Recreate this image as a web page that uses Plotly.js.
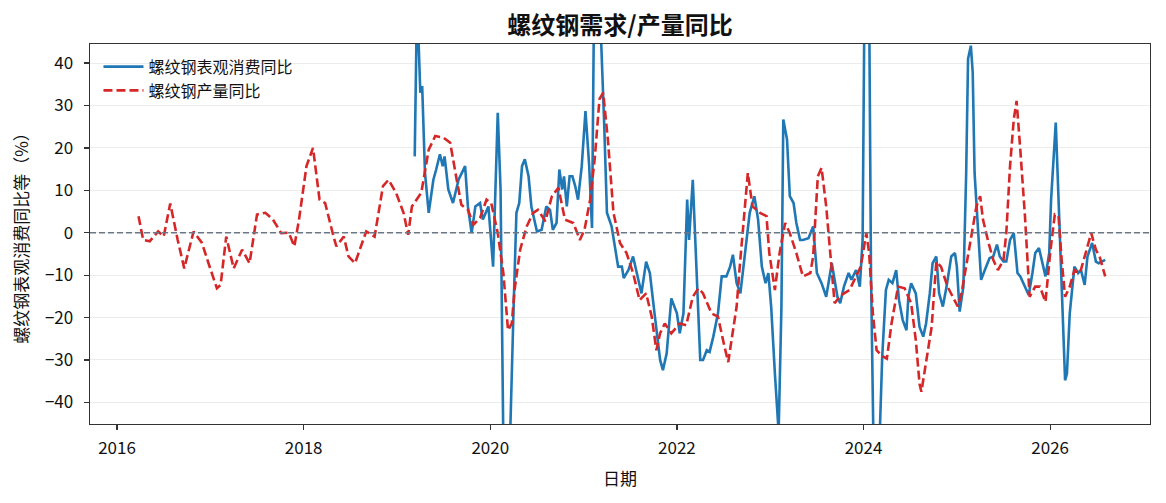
<!DOCTYPE html>
<html>
<head>
<meta charset="utf-8">
<script src="https://cdn.plot.ly/plotly-3.0.1.min.js"></script>
<style>
  body { margin: 0; background: #fff; }
  #chart { width: 1166px; height: 503px; }
</style>
</head>
<body>
<div id="chart"></div>
<script>
// 螺纹钢产量同比 (weekly, x = decimal year)
var prodX = [2016.23, 2016.28, 2016.35, 2016.44, 2016.50, 2016.57, 2016.65, 2016.72, 2016.82, 2016.91,
  2016.98, 2017.07, 2017.11, 2017.17, 2017.25, 2017.34, 2017.42, 2017.50, 2017.59, 2017.67,
  2017.76, 2017.84, 2017.90, 2017.95, 2018.03, 2018.10, 2018.17, 2018.23, 2018.32, 2018.35,
  2018.43, 2018.48, 2018.55, 2018.60, 2018.67, 2018.76, 2018.85, 2018.91, 2018.99, 2019.07,
  2019.12, 2019.16, 2019.21, 2019.26, 2019.34, 2019.41, 2019.50, 2019.57, 2019.64, 2019.69,
  2019.76, 2019.82, 2019.89, 2019.96, 2020.01, 2020.08, 2020.14, 2020.19, 2020.23, 2020.26,
  2020.32, 2020.39, 2020.46, 2020.51, 2020.59, 2020.66, 2020.73, 2020.80, 2020.89, 2020.96,
  2021.01, 2021.07, 2021.12, 2021.17, 2021.21, 2021.26, 2021.32, 2021.39, 2021.46, 2021.53,
  2021.60, 2021.67, 2021.73, 2021.78, 2021.82, 2021.87, 2021.94, 2022.03, 2022.10, 2022.17,
  2022.23, 2022.28, 2022.37, 2022.44, 2022.51, 2022.55, 2022.58, 2022.64, 2022.67, 2022.71,
  2022.76, 2022.81, 2022.89, 2022.96, 2022.99, 2023.05, 2023.10, 2023.16, 2023.21, 2023.28,
  2023.35, 2023.43, 2023.46, 2023.51, 2023.55, 2023.60, 2023.66, 2023.69, 2023.76, 2023.85,
  2023.92, 2023.97, 2024.03, 2024.06, 2024.10, 2024.14, 2024.19, 2024.25, 2024.30, 2024.37,
  2024.44, 2024.51, 2024.56, 2024.60, 2024.62, 2024.67, 2024.73, 2024.78, 2024.83, 2024.90,
  2024.96, 2025.01, 2025.05, 2025.10, 2025.16, 2025.21, 2025.25, 2025.28, 2025.34, 2025.39,
  2025.44, 2025.50, 2025.53, 2025.57, 2025.61, 2025.64, 2025.68, 2025.73, 2025.78, 2025.84,
  2025.89, 2025.95, 2026.00, 2026.05, 2026.09, 2026.12, 2026.16, 2026.21, 2026.26, 2026.32,
  2026.37, 2026.44, 2026.49, 2026.53, 2026.59];
var prodY = [3.9, -1.7, -2, 0.3, -0.9, 6.9, -1.7, -8.4, 0.3, -2.4,
  -7.2, -13.1, -12.3, -0.9, -8.4, -4, -7.2, 4.3, 4.7, 3.1,
  -0.1, 0, -3.2, 3.1, 15.7, 20, 7.8, 7, -0.9, -3.2,
  -0.9, -5.6, -7.2, -4, 0.3, -0.9, 11, 12.5, 9.4, 4.7,
  -0.5, 6.2, 7.8, 9.4, 19.6, 22.8, 22.4, 21.2, 12.5, 6.6,
  5.4, 1.9, 3.5, 7.8, 7, -0.1, -9.5, -23, -21.4, -13.5,
  -4, 1.5, 4.7, 5.4, 2.7, 8.6, 10.6, 3.1, 2.3, -1.7,
  0.7, 7.8, 17.7, 31.5, 33, 22, 4.7, -2.4, -4.8, -9.5,
  -15.9, -14.3, -19.8, -27.7, -23.7, -21.4, -23.7, -21.4, -21.8, -15.1,
  -13.1, -14.3, -19, -19.8, -26.9, -30.5, -26.1, -17.4, -8.8, 2.3,
  14.1, 6.2, 4.7, 3.9, -4.8, -13.5, -4.8, 2.3, -0.1, -4.8,
  -10.3, -9.5, -5.6, 13.3, 15.3, 6.2, -9.5, -16.6, -14.7, -13.5,
  -10.3, -8, -0.1, -4.8, -19, -27.7, -28.9, -29.7, -21.4, -12.7,
  -13.1, -16.6, -25.3, -35.6, -37.5, -30, -22.2, -6.8, -8, -12.7,
  -15.1, -17.4, -14.3, -8, -0.1, 6.2, 8.6, 3.1, -2.4, -6.4,
  -8.8, -6.4, -0.1, 15.7, 26.7, 31.1, 19.6, 3.9, -15.1, -12.7,
  -12.7, -16.3, -4.8, 4.3, 3.9, -5.6, -15.1, -12.7, -8.8, -9.5,
  -5.6, -0.1, -4, -5.6, -10.3];

// 螺纹钢表观消费同比
var consX = [2019.19, 2019.21, 2019.23, 2019.25, 2019.27, 2019.30, 2019.34, 2019.39, 2019.42, 2019.46,
  2019.49, 2019.51, 2019.55, 2019.60, 2019.66, 2019.73, 2019.76, 2019.80, 2019.84, 2019.89,
  2019.92, 2019.98, 2020.03, 2020.08, 2020.11, 2020.14, 2020.17, 2020.21, 2020.25, 2020.28,
  2020.31, 2020.34, 2020.37, 2020.41, 2020.44, 2020.50, 2020.55, 2020.60, 2020.64, 2020.67,
  2020.71, 2020.74, 2020.77, 2020.79, 2020.82, 2020.85, 2020.88, 2020.91, 2020.94, 2020.98,
  2021.02, 2021.06, 2021.09, 2021.11, 2021.14, 2021.18, 2021.22, 2021.25, 2021.30, 2021.34,
  2021.37, 2021.41, 2021.43, 2021.48, 2021.53, 2021.57, 2021.62, 2021.67, 2021.71, 2021.76,
  2021.82, 2021.85, 2021.89, 2021.94, 2022.00, 2022.03, 2022.07, 2022.11, 2022.13, 2022.17,
  2022.21, 2022.25, 2022.28, 2022.32, 2022.35, 2022.39, 2022.44, 2022.48, 2022.53, 2022.57,
  2022.60, 2022.64, 2022.68, 2022.73, 2022.78, 2022.83, 2022.87, 2022.91, 2022.95, 2022.98,
  2023.01, 2023.05, 2023.09, 2023.12, 2023.14, 2023.18, 2023.21, 2023.25, 2023.28, 2023.32,
  2023.35, 2023.41, 2023.46, 2023.50, 2023.55, 2023.60, 2023.66, 2023.72, 2023.75, 2023.79,
  2023.84, 2023.87, 2023.92, 2023.96, 2023.99, 2024.01, 2024.06, 2024.08, 2024.11, 2024.17,
  2024.20, 2024.24, 2024.27, 2024.31, 2024.35, 2024.38, 2024.42, 2024.46, 2024.48, 2024.51,
  2024.56, 2024.60, 2024.64, 2024.67, 2024.71, 2024.74, 2024.78, 2024.81, 2024.85, 2024.89,
  2024.94, 2024.98, 2025.00, 2025.03, 2025.07, 2025.10, 2025.12, 2025.15, 2025.17, 2025.19,
  2025.23, 2025.26, 2025.30, 2025.35, 2025.39, 2025.43, 2025.46, 2025.50, 2025.53, 2025.57,
  2025.61, 2025.65, 2025.68, 2025.71, 2025.77, 2025.81, 2025.84, 2025.88, 2025.91, 2025.95,
  2025.99, 2026.01, 2026.06, 2026.09, 2026.12, 2026.16, 2026.18, 2026.21, 2026.26, 2026.30,
  2026.33, 2026.37, 2026.40, 2026.45, 2026.49, 2026.52, 2026.59];
var consY = [18, 48, 46, 33, 34.6, 14.1, 4.7, 12.5, 14.9, 18.5,
  15.7, 18, 10.2, 7, 12.5, 15.7, 6.2, -0.1, 6.2, 7,
  3.1, 6.2, -8, 28.3, 10.2, -50, -60, -50, -17.4, 4.7,
  7, 15.7, 17.3, 13.3, 6.2, 0.3, 0.7, 6.2, 5.4, 0.7,
  2.3, 14.9, 10.2, 13.3, 6.2, 13.3, 13.3, 11, 7.8, 15.7,
  28.7, 15.7, 1.1, 50, 60, 50, 26, 4.7, 1.5, -4,
  -8, -8, -10.7, -8.8, -5.6, -9.5, -14.3, -6.8, -9.5, -19,
  -30, -32.4, -28.5, -15.5, -19, -23.7, -19, 7.8, -1.7, 12.5,
  -9.5, -30, -30, -27.7, -28.1, -24.5, -19, -10.3, -10.3, -8,
  -5.2, -11.9, -14.3, -4.8, 4.7, 8.6, 3.1, -8, -11.9, -9.5,
  -17.4, -33.2, -47, -17.4, 26.7, 22, 8.6, 7, 2.3, -1.7,
  -1.7, -1.3, 1.5, -9.5, -11.9, -15.1, -7.2, -15.1, -16.6, -12.7,
  -9.5, -11.1, -8.8, -12.7, -1.7, 55, 55, -9.5, -55, -50,
  -29.3, -13.5, -11.1, -11.9, -8.8, -15.9, -20.6, -23, -15.1, -11.9,
  -14.3, -22.2, -24.5, -21.4, -14.3, -7.2, -5.6, -14.3, -17.4, -12.7,
  -5.6, -4.8, -8, -18.6, -12.7, 14.1, 41, 44.1, 37.8, 14.1,
  -1.7, -11.1, -8.8, -6, -5.6, -2.8, -5.6, -6.8, -6.8, -1.7,
  -0.1, -9.5, -10.3, -11.9, -14.7, -9.5, -4.8, -3.6, -6.4, -10.3,
  -4.8, 7.8, 26, 7.8, -11.1, -34.8, -33.2, -19, -8, -9.5,
  -8.8, -12.3, -5.6, -2.4, -6.8, -7.2, -6.4];

var yearTicks = [2016, 2018, 2020, 2022, 2024, 2026];
var yTicks = [-40, -30, -20, -10, 0, 10, 20, 30, 40];

var cjk = '"Noto Sans CJK SC", "Noto Sans", sans-serif';

var traces = [
  {
    x: consX, y: consY, name: '螺纹钢表观消费同比',
    type: 'scatter', mode: 'lines',
    line: { color: '#1f77b4', width: 2.6 }
  },
  {
    x: prodX, y: prodY, name: '螺纹钢产量同比',
    type: 'scatter', mode: 'lines',
    line: { color: '#d62728', width: 2.6, dash: '9px,4px' }
  }
];

var layout = {
  width: 1166, height: 503,
  margin: { l: 90, r: 16, t: 44, b: 79 },
  paper_bgcolor: '#fff', plot_bgcolor: '#fff',
  font: { family: cjk, color: '#111', size: 17 },
  title: {
    text: '<b>螺纹钢需求/产量同比</b>',
    font: { size: 24, family: cjk, color: '#111' },
    x: 0.5, xref: 'paper', y: 0.95, yref: 'container', yanchor: 'middle'
  },
  showlegend: true,
  legend: {
    x: 0.008, y: 0.985, xanchor: 'left', yanchor: 'top',
    bgcolor: 'rgba(0,0,0,0)', borderwidth: 0,
    itemwidth: 40, tracegroupgap: 0,
    font: { size: 16, family: cjk, color: '#111' }
  },
  xaxis: {
    range: [2015.71, 2027.07],
    tickvals: yearTicks, ticktext: yearTicks.map(String),
    ticks: 'outside', ticklen: 5, tickwidth: 1.2, tickcolor: '#333',
    ticklabelstandoff: 3,
    showgrid: false, zeroline: false,
    showline: true, mirror: true, linecolor: '#333', linewidth: 1.4,
    tickfont: { size: 17 },
    title: { text: '日期', font: { size: 17 }, standoff: 15 }
  },
  yaxis: {
    range: [-45.1, 44.5],
    tickvals: yTicks,
    ticks: 'outside', ticklen: 5, tickwidth: 1.2, tickcolor: '#333',
    ticklabelstandoff: 7,
    showgrid: true, gridcolor: '#ececec', gridwidth: 1,
    zeroline: false,
    showline: true, mirror: true, linecolor: '#333', linewidth: 1.4,
    tickfont: { size: 17 },
    title: { text: '螺纹钢表观消费同比等（%）', font: { size: 17 }, standoff: 12 }
  },
  shapes: [{
    type: 'line', xref: 'paper', x0: 0, x1: 1, yref: 'y', y0: 0, y1: 0,
    line: { color: '#6b7785', width: 1.3, dash: '6px,3px' }
  }]
};

Plotly.newPlot('chart', traces, layout, { displayModeBar: false, staticPlot: true });
</script>
</body>
</html>
